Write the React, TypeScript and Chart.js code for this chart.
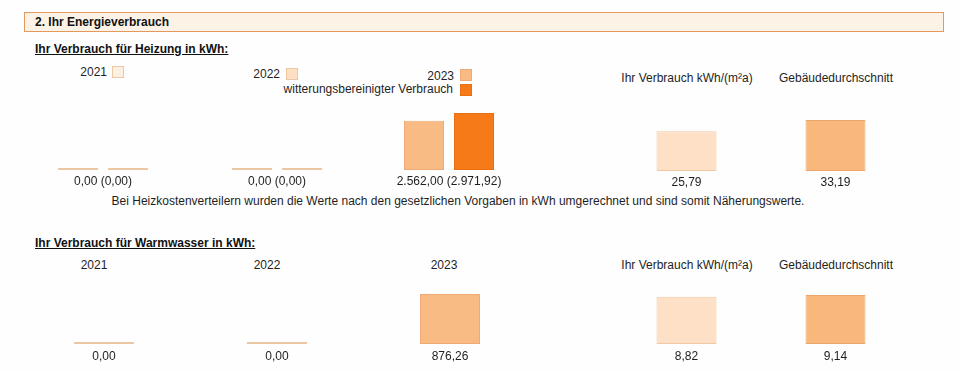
import React, { useEffect, useRef } from 'react';
import { Chart, registerables } from 'chart.js';

Chart.register(...registerables);

// ---------- data ----------
const years = ['2021', '2022', '2023'];
const heatingKwh = [0, 0, 2562.0];
const heatingWeatherAdjusted = [0, 0, 2971.92];
const perAreaLabels = ['Ihr Verbrauch kWh/(m²a)', 'Gebäudedurchschnitt'];
const heatingPerArea = [25.79, 33.19];
const waterKwh = [0, 0, 876.26];
const waterPerArea = [8.82, 9.14];
const weatherLabel = 'witterungsbereinigter Verbrauch';

// ---------- style ----------
const FONT = '"Liberation Sans", Arial, sans-serif';
const TEXT = '#1e1e1e';
const yearColors = ['#fdf0e2', '#fde0c4', '#f9bb84'];
const yearBorders = ['#ecc7a3', '#ecc7a3', '#eeaa72'];
const weatherColor = '#f77a18';
const weatherBorder = '#ea6f10';
const perAreaColors = ['#fde0c6', '#f9b77c'];
const perAreaBorders = ['#f0c9a4', '#eca66b'];

function fmtDe(v: number): string {
  const [i, d] = Math.abs(v).toFixed(2).split('.');
  const int = i.replace(/\B(?=(\d{3})+(?!\d))/g, '.');
  return (v < 0 ? '-' : '') + int + ',' + d;
}

type BarSpec = {
  labels: string[];
  datasets: any[];
  yMax: number;
  tickLabel: (i: number) => string;
  tickPad: number;
};

function BarCanvas(props: { left: number; top: number; width: number; height: number; spec: BarSpec }) {
  const ref = useRef<HTMLCanvasElement | null>(null);
  const { left, top, width, height, spec } = props;
  useEffect(() => {
    if (!ref.current) return;
    const chart = new Chart(ref.current, {
      type: 'bar',
      data: { labels: spec.labels, datasets: spec.datasets },
      options: {
        animation: false,
        responsive: false,
        maintainAspectRatio: false,
        devicePixelRatio: 1,
        layout: { padding: 0 },
        plugins: {
          legend: { display: false },
          tooltip: { enabled: false },
          title: { display: false },
        },
        scales: {
          x: {
            offset: true,
            grid: { display: false, drawTicks: false },
            border: { display: false },
            ticks: {
              padding: spec.tickPad,
              color: TEXT,
              maxRotation: 0,
              autoSkip: false,
              font: { family: FONT, size: 12 },
              callback: (_v: any, i: number) => spec.tickLabel(i),
            },
            afterFit: (s: any) => {
              s.height = 20;
            },
          },
          y: { display: false, min: 0, max: spec.yMax },
        },
      } as any,
    });
    return () => chart.destroy();
  }, []);
  return (
    <canvas
      ref={ref}
      width={width}
      height={height}
      style={{ position: 'absolute', left, top, width, height }}
    />
  );
}

function Txt(props: {
  x: number;
  y: number;
  align?: 'left' | 'center' | 'right';
  bold?: boolean;
  underline?: boolean;
  children: any;
}) {
  const { x, y, align = 'left', bold = false, underline = false } = props;
  const tx = align === 'center' ? '-50%' : align === 'right' ? '-100%' : '0';
  return (
    <div
      style={{
        position: 'absolute',
        left: x,
        top: y,
        transform: `translate(${tx}, -50%)`,
        whiteSpace: 'nowrap',
        fontSize: 12,
        lineHeight: '14px',
        fontWeight: bold ? 700 : 400,
        textDecoration: underline ? 'underline' : 'none',
        color: bold ? '#111' : TEXT,
      }}
    >
      {props.children}
    </div>
  );
}

function Box(props: { x: number; y: number; color: string; border: string }) {
  return (
    <div
      style={{
        position: 'absolute',
        left: props.x,
        top: props.y,
        width: 10,
        height: 10,
        background: props.color,
        border: `1px solid ${props.border}`,
      }}
    />
  );
}

const common = { borderWidth: 1, minBarLength: 2, borderSkipped: false };
const pairBar = { ...common, categoryPercentage: 100 / 180, barPercentage: 0.8 };
const singleBar = { ...common, categoryPercentage: 1, barPercentage: 0.5 };
const areaBar = { ...common, categoryPercentage: 1, barPercentage: 60 / 149 };

export default function App() {
  const heatCenters = [103, 277, 449];
  const waterCenters = [104, 277, 450];
  const heatYearBorder = (i: number) => (heatingWeatherAdjusted[i] === 0 ? yearBorders[i] : weatherBorder);
  const heatYearFill = (i: number) => (i < 2 ? yearColors[i] : weatherColor);

  return (
    <div
      style={{
        position: 'absolute',
        left: 0,
        top: 0,
        width: 960,
        height: 372,
        overflow: 'hidden',
        background: '#fefefe',
        fontFamily: FONT,
      }}
    >
      {/* section header */}
      <div
        style={{
          position: 'absolute',
          left: 24,
          top: 12,
          width: 918,
          height: 18,
          background: '#fcf2e6',
          border: '1px solid #e3995c',
        }}
      />
      <Txt x={35} y={22} bold>
        2. Ihr Energieverbrauch
      </Txt>

      {/* ---------- Heizung ---------- */}
      <Txt x={35} y={49} bold underline>
        Ihr Verbrauch für Heizung in kWh:
      </Txt>
      <Txt x={107} y={72} align="right">{years[0]}</Txt>
      <Box x={112} y={66} color={yearColors[0]} border={yearBorders[0]} />
      <Txt x={280} y={74} align="right">{years[1]}</Txt>
      <Box x={286} y={68} color={yearColors[1]} border={yearBorders[1]} />
      <Txt x={454} y={76} align="right">{years[2]}</Txt>
      <Box x={460} y={69} color={yearColors[2]} border={yearBorders[2]} />
      <Txt x={453} y={89} align="right">{weatherLabel}</Txt>
      <Box x={460} y={84} color={weatherColor} border={weatherBorder} />
      <Txt x={687} y={78} align="center">{perAreaLabels[0]}</Txt>
      <Txt x={836} y={78} align="center">{perAreaLabels[1]}</Txt>

      {years.map((y, i) => (
        <BarCanvas
          key={'h' + y}
          left={heatCenters[i] - 90}
          top={100}
          width={180}
          height={90}
          spec={{
            labels: [y],
            yMax: 3650,
            tickPad: 4,
            tickLabel: () => `${fmtDe(heatingKwh[i])} (${fmtDe(heatingWeatherAdjusted[i])})`,
            datasets: [
              {
                ...pairBar,
                label: y,
                data: [heatingKwh[i]],
                backgroundColor: yearColors[i],
                borderColor: yearBorders[i],
              },
              {
                ...pairBar,
                label: weatherLabel,
                data: [heatingWeatherAdjusted[i]],
                backgroundColor: heatYearFill(i),
                borderColor: heatYearBorder(i),
              },
            ],
          }}
        />
      ))}

      <BarCanvas
        left={612}
        top={101}
        width={298}
        height={90}
        spec={{
          labels: perAreaLabels,
          yMax: 45.5,
          tickPad: 4,
          tickLabel: (i) => fmtDe(heatingPerArea[i]),
          datasets: [
            {
              ...areaBar,
              label: 'Heizung kWh/(m²a)',
              data: heatingPerArea,
              backgroundColor: perAreaColors,
              borderColor: perAreaBorders,
            },
          ],
        }}
      />

      <Txt x={458} y={201} align="center">
        Bei Heizkostenverteilern wurden die Werte nach den gesetzlichen Vorgaben in kWh umgerechnet und sind somit Näherungswerte.
      </Txt>

      {/* ---------- Warmwasser ---------- */}
      <Txt x={35} y={243} bold underline>
        Ihr Verbrauch für Warmwasser in kWh:
      </Txt>
      <Txt x={94} y={265} align="center">{years[0]}</Txt>
      <Txt x={267} y={265} align="center">{years[1]}</Txt>
      <Txt x={444} y={265} align="center">{years[2]}</Txt>
      <Txt x={687} y={265} align="center">{perAreaLabels[0]}</Txt>
      <Txt x={836} y={265} align="center">{perAreaLabels[1]}</Txt>

      {years.map((y, i) => (
        <BarCanvas
          key={'w' + y}
          left={waterCenters[i] - 60}
          top={284}
          width={120}
          height={80}
          spec={{
            labels: [y],
            yMax: 1050,
            tickPad: 5,
            tickLabel: () => fmtDe(waterKwh[i]),
            datasets: [
              {
                ...singleBar,
                label: y,
                data: [waterKwh[i]],
                backgroundColor: yearColors[i],
                borderColor: yearBorders[i],
              },
            ],
          }}
        />
      ))}

      <BarCanvas
        left={612}
        top={284}
        width={298}
        height={80}
        spec={{
          labels: perAreaLabels,
          yMax: 11.2,
          tickPad: 5,
          tickLabel: (i) => fmtDe(waterPerArea[i]),
          datasets: [
            {
              ...areaBar,
              label: 'Warmwasser kWh/(m²a)',
              data: waterPerArea,
              backgroundColor: perAreaColors,
              borderColor: perAreaBorders,
            },
          ],
        }}
      />
    </div>
  );
}
